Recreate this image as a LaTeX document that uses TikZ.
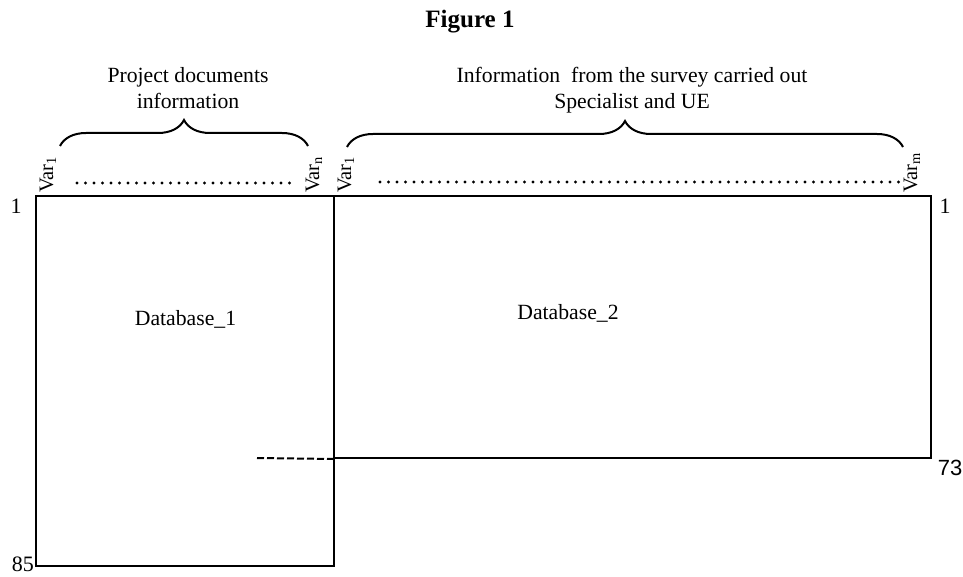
\documentclass[tikz,border=0pt]{standalone}
\usepackage{fontspec}
\setmainfont{Liberation Serif}
\newfontfamily\arialfont{Liberation Sans}
\usetikzlibrary{decorations.pathreplacing}
\begin{document}
\begin{tikzpicture}[x=1pt,y=-1pt,
  dbbox/.style={draw,line width=2pt,inner sep=0pt,minimum width=#1},
  lbl/.style={inner sep=0pt,anchor=base,font=\fontsize{21.7}{26}\selectfont},
  num/.style={inner sep=0pt,font=\fontsize{22}{26}\selectfont},
  varlbl/.style={inner sep=0pt,rotate=90,anchor=base west,font=\fontsize{20.5}{24}\selectfont},
  dotline/.style={line width=3.2pt,line cap=round,dash pattern=on 0pt off 8.5pt},
  dashline/.style={line width=2pt,dash pattern=on 7pt off 3pt},
  bracestyle/.style={line width=2pt,decorate,decoration={brace,amplitude=26pt}}]
\useasboundingbox (0,0) rectangle (963,577);
% boxes
\node[dbbox=298pt,minimum height=370pt] (db1) at (185,381) {};
\node[dbbox=597pt,minimum height=262pt] (db2) at (632.5,327) {};
% labels
\node[inner sep=0pt,anchor=base,font=\fontsize{25}{30}\selectfont\bfseries] (title) at (470,28) {Figure 1};
\node[lbl] (pd1) at (188,83) {Project documents};
\node[lbl] (pd2) at (188,109) {information};
\node[lbl] (sv1) at (632,83) {Information\ \ from the survey carried out};
\node[lbl] (sv2) at (632,109) {Specialist and UE};
\node[lbl] (d1) at (185.5,325) {Database\_1};
\node[lbl] (d2) at (568,319) {Database\_2};
% numbers
\node[num] (n1l) at (16,206) {1};
\node[num] (n1r) at (945,206) {1};
\node[num] (n85) at (23,564) {85};
\node[num,font=\arialfont\fontsize{22}{26}\selectfont] (n73) at (950,468) {73};
% variable labels
\node[varlbl] (v1) at (53,193) {Var$_{\mathrm{1}}$};
\node[varlbl] (vn) at (319,193) {Var$_{\mathrm{n}}$};
\node[varlbl] (w1) at (351,193) {Var$_{\mathrm{1}}$};
\node[varlbl] (wm) at (917,193) {Var$_{\mathrm{m}}$};
% dots
\coordinate (dl1) at (77,183);
\coordinate (dl2) at (297,183);
\coordinate (dr1) at (380,182);
\coordinate (dr2) at (905,182);
\draw[dotline] (dl1) -- (dl2);
\draw[dotline] (dr1) -- (dr2);
% braces
\coordinate (bl1) at (60,146);
\coordinate (bl2) at (308,146);
\coordinate (br1) at (347,147);
\coordinate (br2) at (903,147);
\draw[bracestyle] (bl1) -- (bl2);
\draw[bracestyle] (br1) -- (br2);
% dashed continuation
\coordinate (dash0) at (257,458);
\draw[dashline] (dash0) -- (db2.south west);
\end{tikzpicture}
\end{document}
